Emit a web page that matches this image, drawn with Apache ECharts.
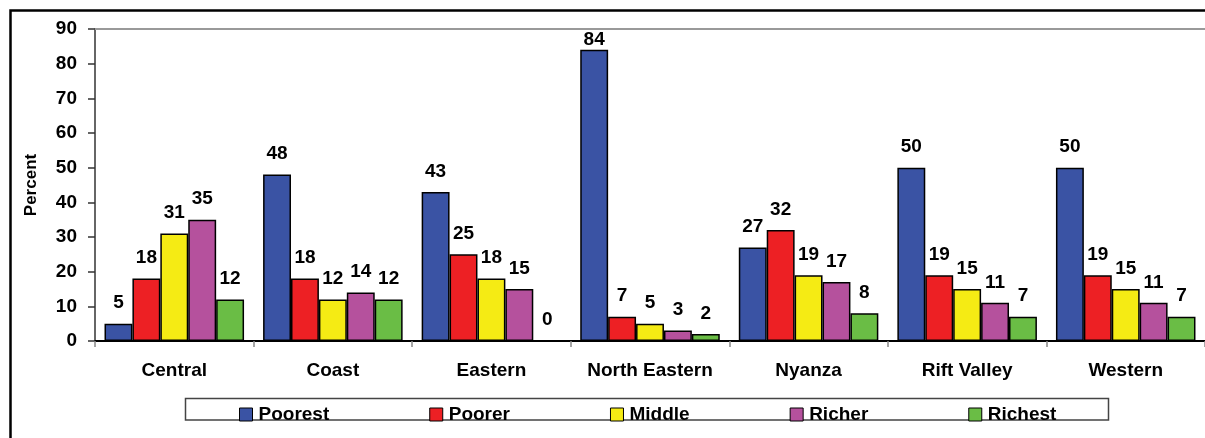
<!DOCTYPE html>
<html>
<head>
<meta charset="utf-8">
<script src="https://cdn.jsdelivr.net/npm/echarts@6/dist/echarts.min.js"></script>
<style>
  html, body { margin: 0; padding: 0; background: #fff; }
  #chart { width: 1205px; height: 438px; }
</style>
</head>
<body>
<div id="chart"></div>
<script>
// Wealth quintile distribution by province (percent)
const provinces = ['Central', 'Coast', 'Eastern', 'North Eastern', 'Nyanza', 'Rift Valley', 'Western'];
const quintiles = ['Poorest', 'Poorer', 'Middle', 'Richer', 'Richest'];
const poorest = [5, 48, 43, 84, 27, 50, 50];
const poorer  = [18, 18, 25, 7, 32, 19, 19];
const middle  = [31, 12, 18, 5, 19, 15, 15];
const richer  = [35, 14, 15, 3, 17, 11, 11];
const richest = [12, 12, 0, 2, 8, 7, 7];
const yTicks = { min: 0, max: 90, interval: 10 };

const seriesValues = [poorest, poorer, middle, richer, richest];
const colors = ['#3A53A4', '#ED2024', '#F5EB14', '#B5519D', '#6ABD45'];
const FONT = "'Liberation Sans', Arial, sans-serif";
const FS = 19;

const chart = echarts.init(document.getElementById('chart'), null, { renderer: 'canvas' });

const series = quintiles.map((name, i) => ({
  name,
  type: 'bar',
  xAxisIndex: 0,
  barGap: '0%',
  barCategoryGap: '12%',
  itemStyle: { color: colors[i], borderColor: '#000', borderWidth: 1.5 },
  label: {
    show: true,
    position: 'top',
    distance: 11,
    color: '#000',
    fontFamily: FONT,
    fontWeight: 'bold',
    fontSize: FS
  },
  // tall bars keep their label tucked under the plot's top edge
  data: seriesValues[i].map(v => v > 80 ? { value: v, label: { distance: 0.5 } } : v)
}));

chart.setOption({
  animation: false,
  backgroundColor: '#fff',
  grid: { left: 95, top: 29, width: 1117, height: 312, containLabel: false },
  graphic: [
    {
      type: 'rect',
      silent: true,
      shape: { x: 10.5, y: 10.5, width: 1400, height: 800 },
      style: { fill: null, stroke: '#000', lineWidth: 2.5 },
      z: 0
    },
    {
      type: 'rect',
      silent: true,
      shape: { x: 185.5, y: 398.5, width: 923, height: 21.5 },
      style: { fill: '#fff', stroke: '#444', lineWidth: 1.5 },
      z: 1
    }
  ],
  legend: {
    data: quintiles,
    left: 239,
    top: 405,
    padding: 0,
    itemGap: 100,
    itemWidth: 13,
    itemHeight: 13,
    icon: 'rect',
    itemStyle: { borderColor: '#000', borderWidth: 1 },
    textStyle: { color: '#000', fontFamily: FONT, fontWeight: 'bold', fontSize: FS, padding: [0, 0, 0, 1] },
    z: 5
  },
  xAxis: [
    {
      type: 'category',
      data: provinces,
      position: 'bottom',
      axisLine: { show: true, lineStyle: { color: '#000', width: 2 } },
      axisTick: { show: true, alignWithLabel: false, length: 6, lineStyle: { color: '#888', width: 1.5 } },
      axisLabel: { color: '#000', fontFamily: FONT, fontWeight: 'bold', fontSize: FS, margin: 20, interval: 0 },
      splitLine: { show: false }
    },
    {
      type: 'category',
      data: provinces,
      position: 'top',
      axisLine: { show: true, lineStyle: { color: '#999', width: 2 } },
      axisTick: { show: false },
      axisLabel: { show: false },
      splitLine: { show: false }
    }
  ],
  yAxis: {
    type: 'value',
    min: yTicks.min,
    max: yTicks.max,
    interval: yTicks.interval,
    name: 'Percent',
    nameLocation: 'middle',
    nameGap: 55,
    nameTextStyle: { color: '#000', fontFamily: FONT, fontWeight: 'bold', fontSize: 17 },
    axisLine: { show: true, lineStyle: { color: '#333', width: 1.5 } },
    axisTick: { show: true, inside: false, length: 7, lineStyle: { color: '#333', width: 1.5 } },
    axisLabel: { color: '#000', fontFamily: FONT, fontWeight: 'bold', fontSize: FS, margin: 18 },
    splitLine: { show: false }
  },
  series
});
</script>
</body>
</html>
